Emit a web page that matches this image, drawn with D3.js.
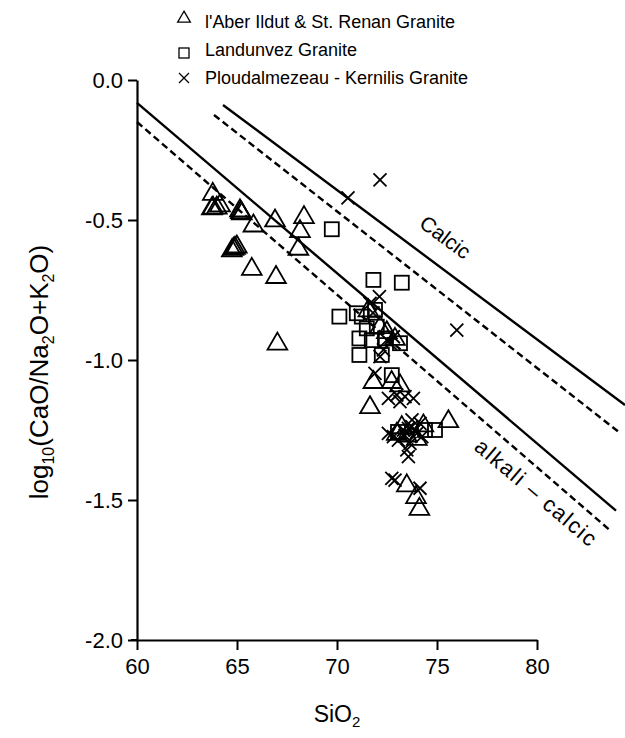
<!DOCTYPE html>
<html><head><meta charset="utf-8">
<script src="https://cdn.jsdelivr.net/npm/d3@7"></script>
<style>body{margin:0;background:#fff}svg{display:block}text{font-family:"Liberation Sans",Arial,sans-serif;fill:#000}</style>
</head><body><svg id="c" width="625" height="738"></svg>
<script>
// ---- data ----
const xTicks = [60, 65, 70, 75, 80];
const yTicks = [0, -0.5, -1.0, -1.5, -2.0];
const seriesNames = ["l'Aber Ildut & St. Renan Granite", "Landunvez Granite", "Ploudalmezeau - Kernilis Granite"];
const aberSiO2 = [63.79,63.74,63.80,63.99,64.15,65.15,65.19,65.24,65.82,66.90,68.35,68.15,68.07,64.82,64.90,64.99,64.74,65.74,66.95,67.02,
  71.57,72.49,72.90,71.82,73.15,71.65,72.15,73.24,72.99,73.49,73.99,74.32,75.57,73.49,73.95,74.12,72.73];
const aberLog = [-0.405,-0.457,-0.454,-0.454,-0.446,-0.464,-0.470,-0.475,-0.518,-0.500,-0.488,-0.538,-0.601,-0.601,-0.598,-0.593,-0.607,-0.673,-0.702,-0.940,
  -0.821,-0.899,-0.923,-1.077,-1.089,-1.167,-0.881,-1.238,-1.262,-1.268,-1.280,-1.232,-1.217,-1.446,-1.488,-1.530,-1.077];
const landSiO2 = [69.74,70.12,71.82,73.24,71.24,71.90,71.49,71.99,71.12,71.74,72.40,73.15,71.12,72.24,72.74,74.40,74.90,70.99,73.05];
const landLog = [-0.533,-0.845,-0.714,-0.724,-0.845,-0.821,-0.887,-0.881,-0.923,-0.929,-0.923,-0.940,-0.982,-0.982,-1.054,-1.250,-1.250,-0.833,-1.257];
const plouSiO2 = [70.55,72.15,75.99,72.12,71.65,72.49,72.65,72.82,72.32,72.15,71.90,72.57,72.99,73.40,73.82,73.15,
  72.57,72.82,73.07,73.32,73.57,73.74,73.90,73.99,74.15,74.24,73.65,73.49,73.57,73.75,73.40,72.74,72.90,74.15,71.80];
const plouLog = [-0.421,-0.357,-0.893,-0.774,-0.798,-0.929,-0.940,-0.917,-0.964,-0.988,-1.048,-1.137,-1.125,-1.131,-1.137,-1.149,
  -1.262,-1.274,-1.286,-1.250,-1.244,-1.238,-1.250,-1.262,-1.226,-1.274,-1.298,-1.321,-1.345,-1.214,-1.270,-1.423,-1.429,-1.458,-0.832];
// boundary lines [x1, y1, x2, y2]
const calcicSolid = [64.3, -0.089, 84.4, -1.161];
const calcicDashed = [63.85, -0.125, 84.07, -1.256];
const alkaliSolid = [60, -0.082, 83.95, -1.538];
const alkaliDashed = [60, -0.15, 83.68, -1.61];
const fieldLabels = ["Calcic", "alkali  \u2013  calcic"];

// ---- drawing ----
const svg = d3.select("#c");
const x = d3.scaleLinear().domain([60, 80]).range([137, 537]);
const y = d3.scaleLinear().domain([-2, 0]).range([640, 80]);
const fmt = d => d.toFixed(1);

const yAx = svg.append("g").attr("transform", `translate(${x(60)},0)`)
  .call(d3.axisLeft(y).tickValues(yTicks).tickFormat(fmt).tickSize(9).tickSizeOuter(0).tickPadding(5));
const xAx = svg.append("g").attr("transform", `translate(0,${y(-2)})`)
  .call(d3.axisBottom(x).tickValues(xTicks).tickFormat(d3.format("d")).tickSize(10).tickSizeOuter(0).tickPadding(8));
[yAx, xAx].forEach(g => {
  g.selectAll("path.domain").attr("stroke", "#000").attr("stroke-width", 2.2);
  g.selectAll(".tick line").attr("stroke", "#000").attr("stroke-width", 2);
  g.selectAll(".tick text").attr("font-size", 22).attr("font-family", '"Liberation Sans",Arial,sans-serif').attr("fill", "#000");
});
svg.append("line").attr("x1", x(60) - 6).attr("x2", x(60)).attr("y1", y(-2)).attr("y2", y(-2)).attr("stroke", "#000").attr("stroke-width", 2);

// boundary lines
function seg(a, dash) {
  svg.append("line").attr("x1", x(a[0])).attr("y1", y(a[1])).attr("x2", x(a[2])).attr("y2", y(a[3]))
    .attr("stroke", "#000").attr("stroke-width", 2.4).attr("stroke-dasharray", dash ? "7,4" : null);
}
seg(calcicSolid, false); seg(calcicDashed, true); seg(alkaliSolid, false); seg(alkaliDashed, true);

function angleOf(a) { return Math.atan2(y(a[3]) - y(a[1]), x(a[2]) - x(a[0])) * 180 / Math.PI; }
svg.append("text").attr("transform", `translate(441,243) rotate(${angleOf(calcicSolid)})`)
  .attr("text-anchor", "middle").attr("font-size", 21).text(fieldLabels[0]);
svg.append("text").attr("transform", `translate(531,498) rotate(${angleOf(alkaliSolid)})`)
  .attr("text-anchor", "middle").attr("font-size", 22).attr("textLength", 152).attr("lengthAdjust", "spacing").text(fieldLabels[1]);

// markers
const tri = (g, s) => g.append("path").attr("d", `M0,${-s*0.62}L${s*0.58},${s*0.38}L${-s*0.58},${s*0.38}Z`);
const sq = (g, s) => g.append("rect").attr("x", -s/2).attr("y", -s/2).attr("width", s).attr("height", s);
const cr = (g, s) => g.append("path").attr("d", `M${-s/2},${-s/2}L${s/2},${s/2}M${-s/2},${s/2}L${s/2},${-s/2}`);
function plot(xs, ys, shape, size) {
  xs.forEach((v, i) => {
    const g = svg.append("g").attr("transform", `translate(${x(v)},${y(ys[i])})`)
      .attr("fill", "none").attr("stroke", "#000").attr("stroke-width", 1.8);
    shape(g, size);
  });
}
plot(landSiO2, landLog, sq, 14);
plot(aberSiO2, aberLog, tri, 17);
plot(plouSiO2, plouLog, cr, 13);

// legend
const lg = [[tri, 11, 18, 28], [sq, 10, 53, 56], [cr, 10, 78, 84]];
const lgText = lg.map((d, i) => {
  const g = svg.append("g").attr("transform", `translate(184,${d[2]})`).attr("fill", "none").attr("stroke", "#000").attr("stroke-width", 1.3);
  d[0](g, d[1]);
  return svg.append("text").attr("x", 205).attr("y", d[3]).attr("font-size", 18).text(seriesNames[i]);
});
lgText[0].attr("textLength", 250).attr("lengthAdjust", "spacing");

// axis titles
const xt = svg.append("text").attr("x", 337).attr("y", 722).attr("text-anchor", "middle").attr("font-size", 23);
xt.append("tspan").text("SiO");
xt.append("tspan").attr("font-size", 15).attr("dy", 5).text("2");
const yt = svg.append("text").attr("transform", "translate(48,372) rotate(-90)").attr("text-anchor", "middle").attr("font-size", 26);
yt.append("tspan").text("log");
yt.append("tspan").attr("font-size", 16).attr("dy", 6).text("10");
yt.append("tspan").attr("dy", -6).text("(CaO/Na");
yt.append("tspan").attr("font-size", 16).attr("dy", 6).text("2");
yt.append("tspan").attr("dy", -6).text("O+K");
yt.append("tspan").attr("font-size", 16).attr("dy", 6).text("2");
yt.append("tspan").attr("dy", -6).text("O)");
</script></body></html>
